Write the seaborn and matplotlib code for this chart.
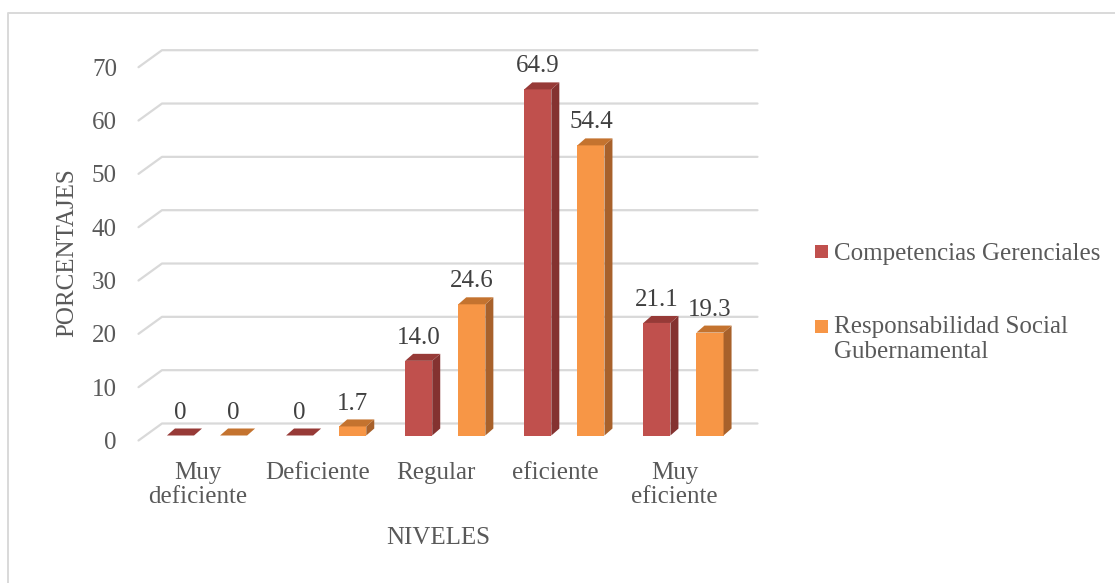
import matplotlib
matplotlib.use("Agg")
import matplotlib.pyplot as plt
from matplotlib.patches import Polygon, Rectangle
from matplotlib.lines import Line2D
from matplotlib.transforms import ScaledTranslation
import seaborn as sns
import pandas as pd

# ---- data -------------------------------------------------------------
niveles = ["Muy\ndeficiente", "Deficiente", "Regular", "eficiente", "Muy\neficiente"]
series = ["Competencias Gerenciales", "Responsabilidad Social Gubernamental"]
leyenda = ["Competencias Gerenciales", "Responsabilidad Social\nGubernamental"]
competencias = [0, 0, 14.0, 64.9, 21.1]
responsabilidad = [0, 1.7, 24.6, 54.4, 19.3]
etiquetas_comp = ["0", "0", "14.0", "64.9", "21.1"]
etiquetas_resp = ["0", "1.7", "24.6", "54.4", "19.3"]
yticks = [0, 10, 20, 30, 40, 50, 60, 70]

df = pd.DataFrame({
    "nivel": niveles * 2,
    "serie": [series[0]] * len(niveles) + [series[1]] * len(niveles),
    "pct": competencias + responsabilidad,
})

# ---- style ------------------------------------------------------------
sns.set_theme(style="white")
plt.rcParams["font.family"] = ["Liberation Serif", "DejaVu Serif"]
FS = 18
TXT = "#595959"
GRID = "#D9D9D9"
front_cols = ["#C0504D", "#F79646"]
side_cols = ["#843230", "#A8612B"]
top_cols = ["#973A37", "#C4732F"]

W, H = 1115, 583
fig = plt.figure(figsize=(W / 100, H / 100), dpi=100)
fig.patch.set_facecolor("white")


def fx(x):
    return x / W


def fy(y):
    return 1 - y / H


# plotting plane of the column faces (pixel geometry, top-left origin)
L, R, B, T = 147.5, 743.0, 435.5, 62.2
ax = fig.add_axes([fx(L), fy(B), (R - L) / W, (B - T) / H])
ax.set_facecolor("none")
for s in ax.spines.values():
    s.set_visible(False)

sns.barplot(data=df, x="nivel", y="pct", hue="serie", order=niveles,
            hue_order=series, palette=front_cols, saturation=1,
            width=0.892, gap=0.49, ax=ax, legend=False, linewidth=0,
            edgecolor="none", zorder=3)
ax.set_xlim(-0.5, 4.5)
ax.set_ylim(0, 70)
ax.grid(False)

to_fig = fig.transFigure.inverted()


def px2fig(pts):
    return to_fig.transform(pts)


# depth offsets in pixels (display coords: y up)
BACK_DX, BACK_DY = 14.5, 12.0
FRONT_DX, FRONT_DY = -9.0, -5.0
BAR_DX, BAR_DY = 8.0, 7.0

# back-wall gridlines with the side-wall diagonals (behind the axes)
for v in yticks:
    xl, yv = ax.transData.transform((-0.5, v))
    xr, _ = ax.transData.transform((4.5, v))
    pts = [(xl + FRONT_DX, yv + FRONT_DY), (xl + BACK_DX, yv + BACK_DY),
           (xr + BACK_DX, yv + BACK_DY)]
    f = px2fig(pts)
    fig.add_artist(Line2D(f[:, 0], f[:, 1], color=GRID, lw=1.6,
                          transform=fig.transFigure, zorder=-1))

# 3D faces of each column plus its value label
bars = [p for p in ax.patches if isinstance(p, Rectangle)]
for i, bar in enumerate(bars):
    k = 0 if i < len(niveles) else 1
    x0, y0 = bar.get_x(), bar.get_y()
    x1, y1 = x0 + bar.get_width(), y0 + bar.get_height()
    (a0, b0), (a1, b1) = ax.transData.transform([(x0, y0), (x1, y1)])
    side = [(a1, b0), (a1, b1), (a1 + BAR_DX, b1 + BAR_DY), (a1 + BAR_DX, b0 + BAR_DY)]
    top = [(a0, b1), (a1, b1), (a1 + BAR_DX, b1 + BAR_DY), (a0 + BAR_DX, b1 + BAR_DY)]
    for poly, col in ((side, side_cols[k]), (top, top_cols[k])):
        fig.add_artist(Polygon(px2fig(poly), closed=True, facecolor=col,
                               edgecolor="none", transform=fig.transFigure,
                               zorder=4))
    lab = (etiquetas_comp if k == 0 else etiquetas_resp)[i % len(niveles)]
    ax.annotate(lab, ((x0 + x1) / 2, y1), xytext=(0, 16.5),
                textcoords="offset points", ha="center", va="center",
                fontsize=FS, color="#404040", zorder=6)

# axes ticks
ax.set_yticks(yticks)
ax.set_yticklabels([str(v) for v in yticks])
ax.tick_params(axis="y", length=0, pad=22, labelsize=FS, labelcolor=TXT)
ax.tick_params(axis="x", length=0, pad=19, labelsize=FS, labelcolor=TXT)
ax.set_xticks(range(len(niveles)))
ax.set_xticklabels(niveles, linespacing=1.15)
shift_y = ScaledTranslation(0, FRONT_DY / 100, fig.dpi_scale_trans)
for t in ax.get_yticklabels():
    t.set_transform(t.get_transform() + shift_y)
shift_x = ScaledTranslation(FRONT_DX / 100, 0, fig.dpi_scale_trans)
for t in ax.get_xticklabels():
    t.set_transform(t.get_transform() + shift_x)
    t.set_multialignment("center")

ax.set_xlabel("NIVELES", fontsize=FS, color=TXT)
ax.set_ylabel("PORCENTAJES", fontsize=FS, color=TXT)
ax.xaxis.set_label_coords((438 - L) / (R - L), (B - 538) / (B - T))
ax.xaxis.label.set_verticalalignment("center")
ax.yaxis.set_label_coords((67 - L) / (R - L), (B - 253) / (B - T))
ax.yaxis.label.set_verticalalignment("center")

# legend: colour keys and labels (baseline of each label's last line)
leg_key_y = [245, 320]
leg_base_y = [260, 357.5]
for k in range(len(series)):
    fig.add_artist(Rectangle((fx(815), fy(leg_key_y[k] + 13)), 13 / W, 13 / H,
                             facecolor=front_cols[k], edgecolor="none",
                             transform=fig.transFigure))
    fig.text(fx(834), fy(leg_base_y[k]), leyenda[k], fontsize=FS, color=TXT,
             ha="left", va="baseline", linespacing=1.15)

# chart-area border (top and left edges)
fig.add_artist(Line2D([fx(7.5), fx(7.5), 1.0], [0.0, fy(13), fy(13)],
                      color=GRID, lw=1.4, transform=fig.transFigure))

fig.savefig("out.png", dpi=100, facecolor="white")
